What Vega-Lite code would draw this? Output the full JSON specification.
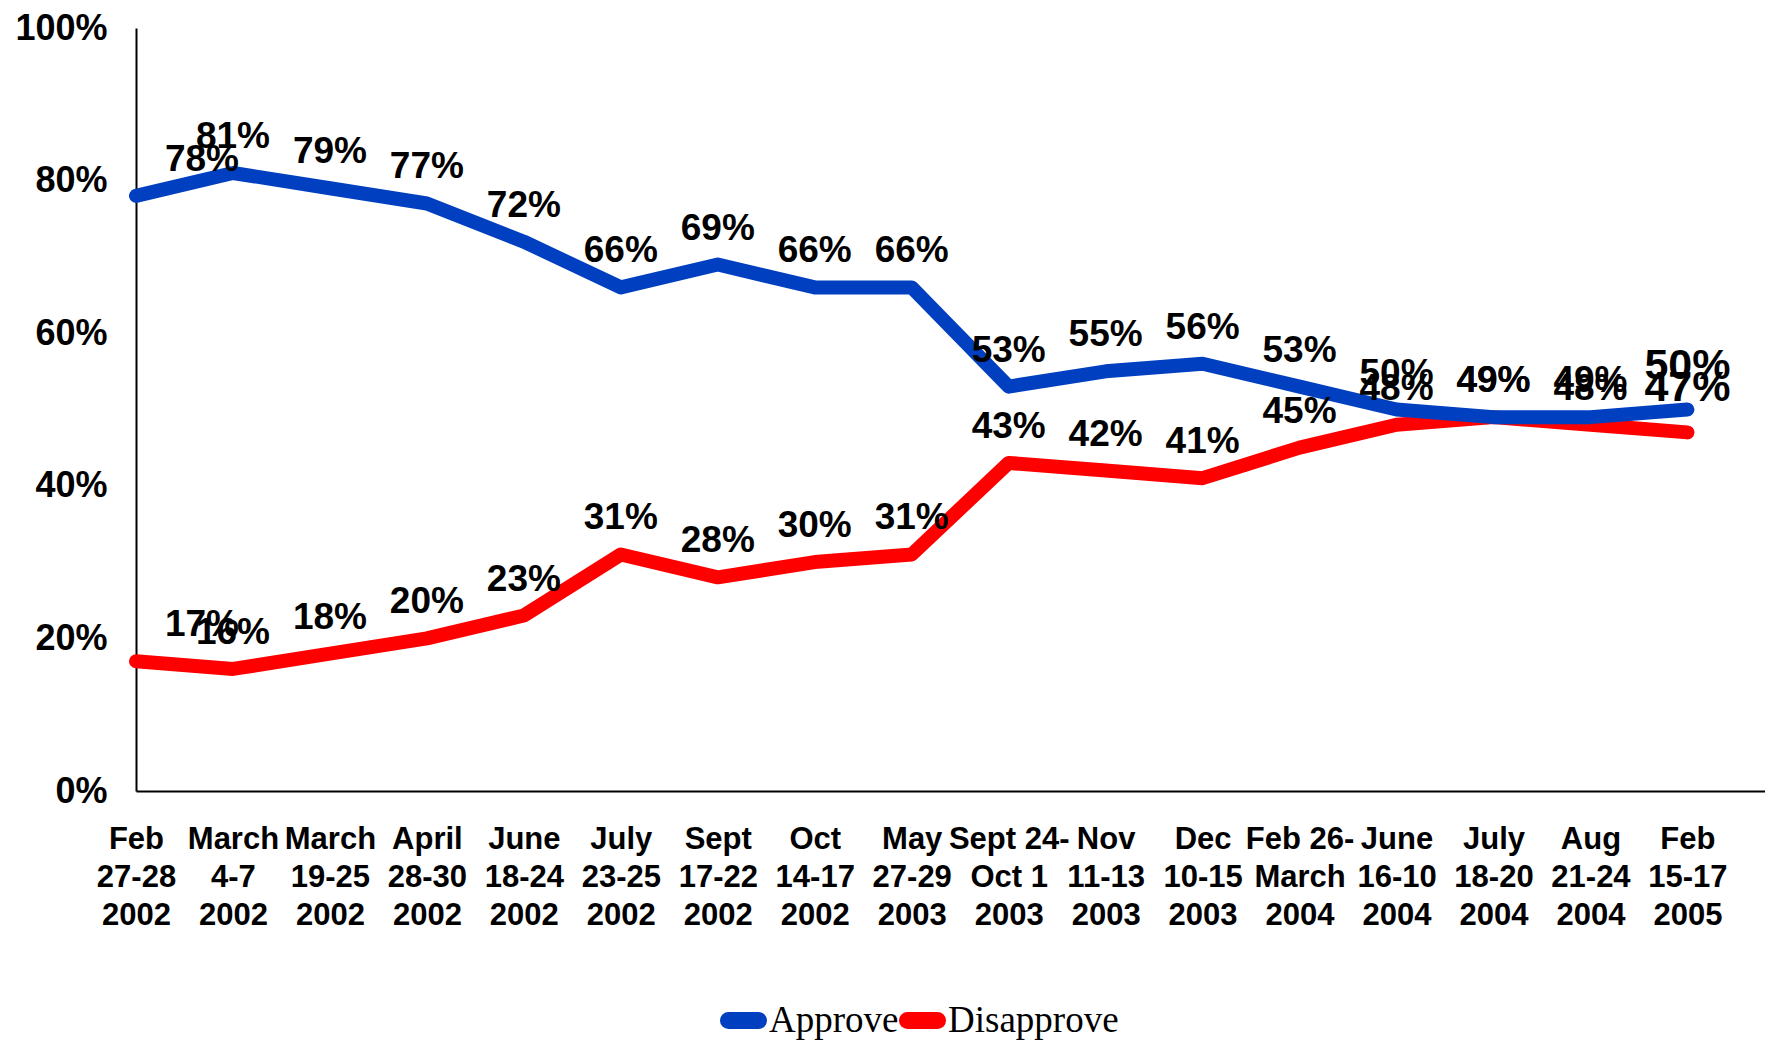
{
  "$schema": "https://vega.github.io/schema/vega-lite/v6.json",
  "width": 1629,
  "height": 763,
  "autosize": {"type": "none"},
  "padding": {"left": 136, "top": 28, "right": 0, "bottom": 249},
  "config": {"view": {"stroke": null}, "font": "Liberation Sans"},
  "data": {
    "values": [
      {"date": "Feb|27-28|2002", "series": "Disapprove", "value": 17},
      {"date": "March|4-7|2002", "series": "Disapprove", "value": 16},
      {"date": "March|19-25|2002", "series": "Disapprove", "value": 18},
      {"date": "April|28-30|2002", "series": "Disapprove", "value": 20},
      {"date": "June|18-24|2002", "series": "Disapprove", "value": 23},
      {"date": "July|23-25|2002", "series": "Disapprove", "value": 31},
      {"date": "Sept|17-22|2002", "series": "Disapprove", "value": 28},
      {"date": "Oct|14-17|2002", "series": "Disapprove", "value": 30},
      {"date": "May|27-29|2003", "series": "Disapprove", "value": 31},
      {"date": "Sept 24-|Oct 1|2003", "series": "Disapprove", "value": 43},
      {"date": "Nov|11-13|2003", "series": "Disapprove", "value": 42},
      {"date": "Dec|10-15|2003", "series": "Disapprove", "value": 41},
      {"date": "Feb 26-|March|2004", "series": "Disapprove", "value": 45},
      {"date": "June|16-10|2004", "series": "Disapprove", "value": 48},
      {"date": "July|18-20|2004", "series": "Disapprove", "value": 49},
      {"date": "Aug|21-24|2004", "series": "Disapprove", "value": 48},
      {"date": "Feb|15-17|2005", "series": "Disapprove", "value": 47},
      {"date": "Feb|27-28|2002", "series": "Approve", "value": 78},
      {"date": "March|4-7|2002", "series": "Approve", "value": 81},
      {"date": "March|19-25|2002", "series": "Approve", "value": 79},
      {"date": "April|28-30|2002", "series": "Approve", "value": 77},
      {"date": "June|18-24|2002", "series": "Approve", "value": 72},
      {"date": "July|23-25|2002", "series": "Approve", "value": 66},
      {"date": "Sept|17-22|2002", "series": "Approve", "value": 69},
      {"date": "Oct|14-17|2002", "series": "Approve", "value": 66},
      {"date": "May|27-29|2003", "series": "Approve", "value": 66},
      {"date": "Sept 24-|Oct 1|2003", "series": "Approve", "value": 53},
      {"date": "Nov|11-13|2003", "series": "Approve", "value": 55},
      {"date": "Dec|10-15|2003", "series": "Approve", "value": 56},
      {"date": "Feb 26-|March|2004", "series": "Approve", "value": 53},
      {"date": "June|16-10|2004", "series": "Approve", "value": 50},
      {"date": "July|18-20|2004", "series": "Approve", "value": 49},
      {"date": "Aug|21-24|2004", "series": "Approve", "value": 49},
      {"date": "Feb|15-17|2005", "series": "Approve", "value": 50}
    ]
  },
  "transform": [{"calculate": "datum.value + '%'", "as": "label"}],
  "encoding": {
    "x": {
      "field": "date",
      "type": "ordinal",
      "sort": null,
      "scale": {"type": "point", "padding": 0.4, "align": 0},
      "axis": {
        "title": null,
        "labelExpr": "split(datum.label, '|')",
        "labelAngle": 0,
        "ticks": false,
        "grid": false,
        "domainColor": "black",
        "domainWidth": 2,
        "labelFont": "Liberation Sans",
        "labelFontWeight": "bold",
        "labelFontSize": 31,
        "labelLineHeight": 38,
        "labelPadding": 33,
        "labelBaseline": "top",
        "labelColor": "black",
        "labelOverlap": false,
        "labelBound": false
      }
    },
    "y": {
      "field": "value",
      "type": "quantitative",
      "scale": {"domain": [0, 100]},
      "axis": {
        "title": null,
        "values": [0, 20, 40, 60, 80, 100],
        "labelExpr": "datum.value + '%'",
        "ticks": false,
        "grid": false,
        "domainColor": "black",
        "domainWidth": 2,
        "labelFontSize": 36,
        "labelFontWeight": "bold",
        "labelPadding": 29,
        "labelColor": "black"
      }
    }
  },
  "layer": [
    {
      "mark": {"type": "line", "strokeWidth": 14, "strokeCap": "round", "strokeJoin": "round"},
      "encoding": {
        "color": {
          "field": "series",
          "type": "nominal",
          "scale": {"domain": ["Approve", "Disapprove"], "range": ["#0040C0", "#FF0000"]},
          "legend": {
            "orient": "none",
            "legendX": 584,
            "legendY": 969,
            "direction": "horizontal",
            "title": null,
            "labelFont": "Liberation Serif",
            "labelFontSize": 37,
            "labelFontWeight": "normal",
            "labelColor": "black",
            "labelLimit": 400,
            "symbolType": "stroke",
            "symbolSize": 900,
            "symbolStrokeWidth": 17,
            "labelOffset": 2,
            "columnPadding": -26,
            "gridAlign": "none",
            "encode": {"symbols": {"update": {"strokeCap": {"value": "round"}, "strokeWidth": {"value": 17}}}}
          }
        }
      }
    },
    {
      "transform": [{"filter": "datum.date != 'Feb|27-28|2002' && datum.date != 'Feb|15-17|2005'"}],
      "mark": {"type": "text", "fontSize": 37, "fontWeight": "bold", "dy": -36, "baseline": "middle", "color": "black"},
      "encoding": {"text": {"field": "label", "type": "nominal"}}
    },
    {
      "transform": [{"filter": "datum.date == 'Feb|27-28|2002'"}],
      "mark": {"type": "text", "fontSize": 37, "fontWeight": "bold", "dy": -36, "dx": 66, "baseline": "middle", "color": "black"},
      "encoding": {"text": {"field": "label", "type": "nominal"}}
    },
    {
      "transform": [{"filter": "datum.date == 'Feb|15-17|2005'"}],
      "mark": {"type": "text", "fontSize": 43, "fontWeight": "bold", "dy": -44, "baseline": "middle", "color": "black"},
      "encoding": {"text": {"field": "label", "type": "nominal"}}
    }
  ]
}
